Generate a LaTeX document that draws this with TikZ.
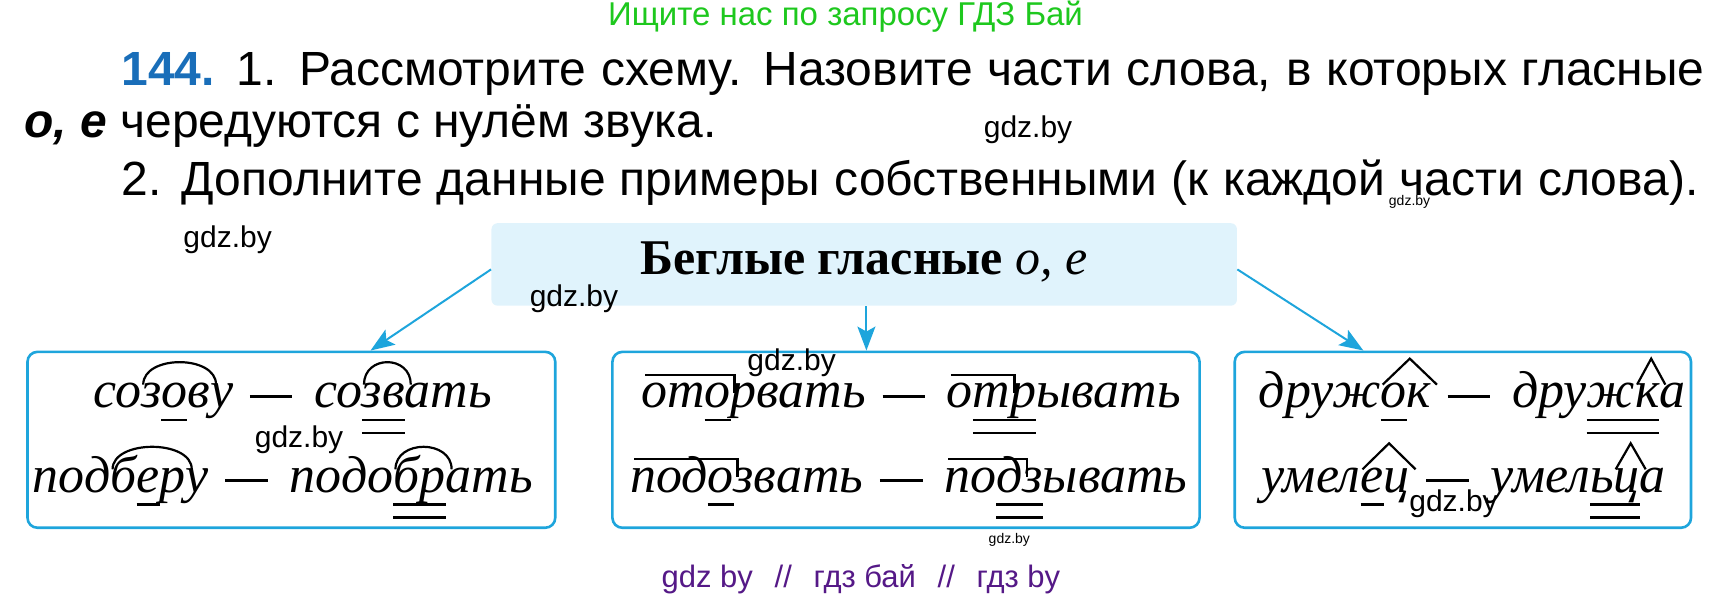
\documentclass[tikz,border=0pt]{standalone}
\usepackage{fontspec}
\setmainfont{Liberation Serif}
\newfontfamily\sansf{Liberation Sans}
\usetikzlibrary{arrows.meta,fit,calc}
\definecolor{cyanline}{RGB}{30,165,220}
\definecolor{hdrfill}{RGB}{224,243,252}
\definecolor{numblue}{RGB}{25,110,185}
\definecolor{wmgreen}{RGB}{30,200,30}
\definecolor{wmpurple}{RGB}{85,25,135}
\tikzset{
 wd/.style={inner sep=0pt, outer sep=0pt, anchor=base west, text height=11.65pt, text depth=0pt, font=\fontsize{26}{26}\selectfont\itshape},
 mk/.style={line width=1.1pt, draw=black},
 bx/.style={draw=cyanline, line width=1.3pt, rounded corners=5pt, inner sep=0pt},
 hd/.style={fill=hdrfill, rounded corners=3pt, inner sep=0pt},
 arr/.style={draw=cyanline, line width=1pt, -{Stealth[length=12pt,width=9pt,inset=2.5pt]}},
 wm/.style={font=\sansf\fontsize{15}{15}\selectfont, inner sep=0pt},
 wms/.style={font=\sansf\fontsize{7}{7}\selectfont, inner sep=0pt},
 tl/.style={font=\sansf\fontsize{24}{24}\selectfont, inner sep=0pt, anchor=base west},
}
\newcommand\dsh{\kern0.32em\rule[0.2em]{0.82em}{0.055em}\kern0.42em}
\newcommand\pcs[3]{\node[wd] (#1) at (#2.base east) {#3};}
\newcommand\rarc[2]{\draw[mk] ([xshift=1pt]#1.north west) .. controls +(0,15pt) and +(0,15pt) .. ([xshift=3pt]#2.north east);}
\newcommand\uln[1]{\draw[mk] ([yshift=-6pt]#1.base west) -- ([yshift=-6pt]#1.base east);}
\newcommand\dln[2]{\draw[mk] ([yshift=-6pt]#1.base west) -- ([yshift=-6pt]#2.base east); \draw[mk] ([yshift=-12.5pt]#1.base west) -- ([yshift=-12.5pt]#2.base east);}
\newcommand\pfx[2]{\draw[mk] ([xshift=2pt,yshift=5pt]#1.north west) -- ([xshift=2pt,yshift=5pt]#2.north east) -- ([xshift=2pt,yshift=-4pt]#2.north east);}
\newcommand\sfx[2]{\draw[mk] ($(#1.north west)+(1pt,0pt)$) -- ($(#1.north west)!0.5!(#2.north east)+(2pt,13pt)$) -- ($(#2.north east)+(3pt,0pt)$);}
\begin{document}
\begin{tikzpicture}[x=0.55pt,y=-0.55pt]
\path[use as bounding box] (0,0) rectangle (1568,547);
% title lines
\node[font=\sansf\fontsize{16.5}{16.5}\selectfont, text=wmgreen, inner sep=0pt] (topwm) at (769,15) {Ищите нас по запросу ГДЗ Бай};
\node[tl] (l1) at (110,78) {\makebox[792pt][s]{\textcolor{numblue}{\bfseries 144.} 1. Рассмотрите схему. Назовите части слова, в которых гласные}};
\node[tl] (l2) at (22,125) {{\bfseries\itshape о, е} чередуются с нулём звука.};
\node[tl] (l3) at (110,178) {\makebox[789pt][s]{2. Дополните данные примеры собственными (к каждой части слова).}};
% header
\node[hd, fit={(447,203) (1125,278)}] (hdr) {};
\node[font=\fontsize{25}{25}\selectfont\bfseries, inner sep=0pt, anchor=base] (ht) at (786,250) {Беглые гласные {\mdseries\itshape о, е}};
% boxes
\node[bx, fit={(25,320) (505,480)}] (b1) {};
\node[bx, fit={(557,320) (1091,480)}] (b2) {};
\node[bx, fit={(1123,320) (1538,480)}] (b3) {};
% arrows
\coordinate (s1) at (447,245);
\coordinate (t1) at (337,320);
\coordinate (t2) at (788,320);
\coordinate (t3) at (1240,320);
\draw[arr] (hdr.west |- s1) -- (b1.north -| t1);
\draw[arr] (hdr.south -| t2) -- (b2.north -| t2);
\draw[arr] (hdr.east |- s1) -- (b3.north -| t3);
% box 1
\node[wd] (a1) at (85,371) {со};
\pcs{a2}{a1}{з}\pcs{a3}{a2}{о}\pcs{a4}{a3}{в}\pcs{a5}{a4}{у}\pcs{a6}{a5}{\dsh}\pcs{a7}{a6}{со}\pcs{a8}{a7}{зв}\pcs{a9}{a8}{ать}
\rarc{a2}{a4}\uln{a3}\rarc{a8}{a8}\dln{a8}{a8}
\node[wd] (c1) at (30,448) {под};
\pcs{c2}{c1}{б}\pcs{c3}{c2}{е}\pcs{c4}{c3}{р}\pcs{c5}{c4}{у}\pcs{c6}{c5}{\dsh}\pcs{c7}{c6}{подо}\pcs{c8}{c7}{бр}\pcs{c9}{c8}{ать}
\rarc{c2}{c4}\uln{c3}\rarc{c8}{c8}\dln{c8}{c8}
% box 2
\node[wd] (d1) at (583,371) {от};
\pcs{d2}{d1}{о}\pcs{d3}{d2}{рвать}\pcs{d4}{d3}{\dsh}\pcs{d5}{d4}{о}\pcs{d6}{d5}{т}\pcs{d7}{d6}{р}\pcs{d8}{d7}{ывать}
\pfx{d1}{d2}\uln{d2}\pfx{d5}{d6}\dln{d6}{d7}
\node[wd] (e1) at (573,448) {под};
\pcs{e2}{e1}{о}\pcs{e3}{e2}{звать}\pcs{e4}{e3}{\dsh}\pcs{e5}{e4}{по}\pcs{e6}{e5}{д}\pcs{e7}{e6}{з}\pcs{e8}{e7}{ывать}
\pfx{e1}{e2}\uln{e2}\pfx{e5}{e6}\dln{e6}{e7}
% box 3
\node[wd] (f1) at (1145,371) {друж};
\pcs{f2}{f1}{о}\pcs{f3}{f2}{к}\pcs{f4}{f3}{\dsh}\pcs{f5}{f4}{дру}\pcs{f6}{f5}{ж}\pcs{f7}{f6}{к}\pcs{f8}{f7}{а}
\sfx{f2}{f3}\uln{f2}\sfx{f7}{f7}\dln{f6}{f7}
\node[wd] (g1) at (1147,448) {умел};
\pcs{g2}{g1}{е}\pcs{g3}{g2}{ц}\pcs{g4}{g3}{\dsh}\pcs{g5}{g4}{умел}\pcs{g6}{g5}{ь}\pcs{g7}{g6}{ц}\pcs{g8}{g7}{а}
\sfx{g2}{g3}\uln{g2}\sfx{g7}{g7}\dln{g6}{g7}
% watermarks
\node[wm] (w1) at (935,118) {gdz.by};
\node[wm] (w2) at (207,218) {gdz.by};
\node[wm] (w3) at (522,272) {gdz.by};
\node[wm] (w4) at (720,330) {gdz.by};
\node[wm] (w5) at (272,400) {gdz.by};
\node[wm] (w6) at (1322,458) {gdz.by};
\node[wms] (w7) at (1282,184) {gdz.by};
\node[wms] (w8) at (918,491) {gdz.by};
\node[font=\sansf\fontsize{15.5}{15.5}\selectfont, text=wmpurple, inner sep=0pt] (bot) at (783,527) {gdz by\hspace{0.7em}//\hspace{0.7em}гдз бай\hspace{0.7em}//\hspace{0.7em}гдз by};
\end{tikzpicture}
\end{document}
